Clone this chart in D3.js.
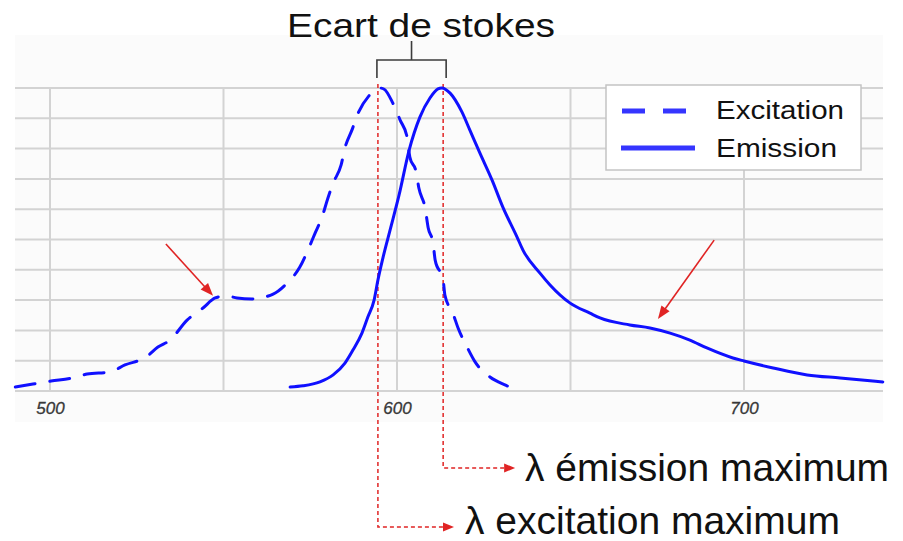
<!DOCTYPE html>
<html>
<head>
<meta charset="utf-8">
<script src="https://cdn.jsdelivr.net/npm/d3@7/dist/d3.min.js"></script>
<style>
  html, body { margin: 0; padding: 0; background: #ffffff; }
  svg { display: block; font-family: "Liberation Sans", Arial, sans-serif; }
</style>
</head>
<body>
<svg id="chart" width="903" height="541"></svg>
<script>
// ---------- data ----------
const title = "Ecart de stokes";
const seriesNames = ["Excitation", "Emission"];
const xTickLabels = [500, 600, 700];
const xGridValues = [500, 550, 600, 650, 700];
const yGridValues = [0, 10, 20, 30, 40, 50, 60, 70, 80, 90, 100];

const excitationNm  = [490, 495.1, 500.3, 506.3, 510.7, 517.3, 521.6, 527.7, 531.1, 534.6, 539.5, 544.1, 547.6, 550.7, 553.9, 558.2, 564.3, 568.3, 572.0, 574.1, 576.4, 578.4, 580.1, 581.6, 583.9, 585.0, 587.0, 588.8, 591.9, 595.0, 596.3, 598.8, 600.9, 602.9, 603.7, 605.5, 606.3, 608.1, 609.0, 610.4, 611.0, 613.3, 613.8, 616.1, 617.6, 620.2, 622.5, 626.8, 631.1, 634.9];
const excitationVal = [1.3, 2.3, 3.3, 4.3, 5.6, 6.3, 8.6, 11.2, 14.5, 16.8, 23.4, 27.4, 30.7, 31.4, 30.7, 30.4, 32.0, 35.6, 40.9, 45.9, 52.1, 57.4, 63.7, 68.6, 74.6, 80.2, 86.1, 91.7, 97.4, 100, 99.6, 95.0, 89.4, 83.8, 77.2, 72.3, 67.0, 60.4, 53.8, 48.8, 43.2, 36.6, 31.7, 25.7, 20.8, 14.5, 9.6, 4.6, 2.0, 0.3];

const emissionNm  = [569.2, 572.9, 577.8, 581.6, 585.0, 587.3, 589.9, 591.6, 593.4, 594.5, 596.0, 598.0, 600.6, 603.5, 606.6, 609.5, 611.8, 612.9, 615.3, 618.7, 621.0, 623.9, 627.4, 630.5, 634.6, 636.3, 641.2, 644.1, 649.9, 655.6, 658.5, 667.1, 672.9, 678.7, 684.4, 689.3, 696.8, 700.0, 708.4, 718.2, 727.7, 740.0];
const emissionVal = [1.3, 1.7, 3.0, 5.3, 9.2, 13.5, 19.1, 24.4, 30.0, 36.6, 44.2, 53.1, 64.7, 79.5, 90.4, 96.7, 99.7, 100, 98.3, 92.1, 86.1, 78.5, 69.6, 60.7, 50.8, 46.5, 38.9, 35.0, 29.0, 25.7, 24.1, 21.8, 20.8, 19.1, 16.8, 14.2, 10.9, 9.9, 7.6, 5.3, 4.3, 3.0];

const excitationMaxNm = 594.5;
const emissionMaxNm = 613.3;
const annotationLabels = ["λ émission maximum", "λ excitation maximum"];
// shoulder arrows: [fromNm, fromVal, toNm, toVal]
const shoulderArrows = [
  [533.4, 48.5, 547.0, 31.4],
  [691.4, 49.8, 675.2, 23.8]
];

// ---------- layout ----------
const svg = d3.select("#chart");
const x = d3.scaleLinear().domain([500, 700]).range([50, 744]);
const y = d3.scaleLinear().domain([0, 100]).range([391, 88]);
const plotLeft = 15, plotRight = 883, plotTop = 35, plotBottom = 422;
const blue = "#1010ff";
const red = "#e02424";

// plot background
svg.append("rect")
  .attr("x", plotLeft).attr("y", plotTop)
  .attr("width", plotRight - plotLeft).attr("height", plotBottom - plotTop)
  .attr("fill", "#fbfbfb");

// grid
const grid = svg.append("g");
grid.selectAll("line.h").data(yGridValues).enter().append("line")
  .attr("x1", plotLeft).attr("x2", plotRight)
  .attr("y1", d => y(d)).attr("y2", d => y(d))
  .attr("stroke", "#d3d3d3").attr("stroke-width", 2);
grid.selectAll("line.v").data(xGridValues).enter().append("line")
  .attr("x1", d => x(d)).attr("x2", d => x(d))
  .attr("y1", y(100)).attr("y2", y(0))
  .attr("stroke", "#d3d3d3").attr("stroke-width", 2);

// x axis labels via d3 axis
const axis = d3.axisBottom(x).tickValues(xTickLabels).tickSize(0).tickPadding(0).tickFormat(d3.format("d"));
const axG = svg.append("g").attr("transform", `translate(0, ${y(0)})`).call(axis);
axG.select(".domain").remove();
axG.attr("font-size", null).attr("font-family", null);
axG.selectAll("text")
  .attr("y", 23).attr("dy", 0)
  .style("font-family", "'Liberation Sans', Arial, sans-serif")
  .style("font-size", "17px").style("font-style", "italic")
  .attr("fill", "#383838")
  .attr("stroke", "#383838").attr("stroke-width", 0.3);

// curves
const line = d3.line().x(d => x(d[0])).y(d => y(d[1])).curve(d3.curveMonotoneX);
const exData = excitationNm.map((d, i) => [d, excitationVal[i]]);
const emData = emissionNm.map((d, i) => [d, emissionVal[i]]);

// red dashed guides (behind curves)
const guideG = svg.append("g");
const exX = x(excitationMaxNm), emX = x(emissionMaxNm);
const exRowY = 527, emRowY = 468;
guideG.append("path")
  .attr("d", `M${exX},84 L${exX},${exRowY} L${x(xTickLabels[1]) + 47},${exRowY}`)
  .attr("fill", "none").attr("stroke", red).attr("stroke-width", 1.5).attr("stroke-dasharray", "4,3");
guideG.append("path")
  .attr("d", `M${emX},84 L${emX},${emRowY} L${emX + 62},${emRowY}`)
  .attr("fill", "none").attr("stroke", red).attr("stroke-width", 1.5).attr("stroke-dasharray", "4,3");
function headAt(tx, ty, angle, len, wid) {
  const c = Math.cos(angle), s = Math.sin(angle);
  const bx = tx - c * len, by = ty - s * len;
  return `M${tx},${ty} L${bx - s * wid / 2},${by + c * wid / 2} L${bx + s * wid / 2},${by - c * wid / 2} Z`;
}
guideG.append("path").attr("d", headAt(x(xTickLabels[1]) + 57, exRowY, 0, 11, 9)).attr("fill", red);
guideG.append("path").attr("d", headAt(emX + 72, emRowY, 0, 11, 9)).attr("fill", red);

svg.append("path").datum(exData).attr("d", line)
  .attr("fill", "none").attr("stroke", blue).attr("stroke-width", 3)
  .attr("stroke-dasharray", "20,15").attr("stroke-linecap", "round");
svg.append("path").datum(emData).attr("d", line)
  .attr("fill", "none").attr("stroke", blue).attr("stroke-width", 3)
  .attr("stroke-linecap", "round");

// shoulder arrows
shoulderArrows.forEach(a => {
  const x1 = x(a[0]), y1 = y(a[1]), x2 = x(a[2]), y2 = y(a[3]);
  const ang = Math.atan2(y2 - y1, x2 - x1);
  const L = 13;
  svg.append("line")
    .attr("x1", x1).attr("y1", y1)
    .attr("x2", x2 - Math.cos(ang) * L * 0.8).attr("y2", y2 - Math.sin(ang) * L * 0.8)
    .attr("stroke", red).attr("stroke-width", 1.6);
  svg.append("path").attr("d", headAt(x2, y2, ang, L, 10)).attr("fill", red);
});

// bracket
const bracketY = 60, stemTop = 41, legBottom = 78;
svg.append("path")
  .attr("d", `M${exX - 1},${legBottom} L${exX - 1},${bracketY} L${emX + 3},${bracketY} L${emX + 3},${legBottom} M${(exX + emX) / 2 + 1},${bracketY} L${(exX + emX) / 2 + 1},${stemTop}`)
  .attr("fill", "none").attr("stroke", "#3c3c3c").attr("stroke-width", 1.6);

// title
svg.append("text")
  .attr("x", 287).attr("y", 37)
  .attr("font-size", 34).attr("fill", "#111")
  .attr("textLength", 268).attr("lengthAdjust", "spacingAndGlyphs")
  .text(title);

// legend
const lg = svg.append("g");
lg.append("rect").attr("x", 606).attr("y", 85).attr("width", 255).attr("height", 85)
  .attr("fill", "#ffffff").attr("stroke", "#c4c4c4").attr("stroke-width", 1.5);
lg.append("line").attr("x1", 622).attr("x2", 686).attr("y1", 111).attr("y2", 111)
  .attr("stroke", "#3535ff").attr("stroke-width", 5).attr("stroke-dasharray", "23,18");
lg.append("line").attr("x1", 621).attr("x2", 695).attr("y1", 148).attr("y2", 148)
  .attr("stroke", "#3535ff").attr("stroke-width", 5);
lg.append("text").attr("x", 716).attr("y", 119).attr("font-size", 26).attr("fill", "#111")
  .attr("textLength", 128).attr("lengthAdjust", "spacingAndGlyphs").text(seriesNames[0]);
lg.append("text").attr("x", 716).attr("y", 157).attr("font-size", 26).attr("fill", "#111")
  .attr("textLength", 121).attr("lengthAdjust", "spacingAndGlyphs").text(seriesNames[1]);

// annotation labels
svg.append("text").attr("x", 525).attr("y", 481).attr("font-size", 39).attr("fill", "#111")
  .text(annotationLabels[0]);
svg.append("text").attr("x", 465).attr("y", 534).attr("font-size", 39).attr("fill", "#111")
  .text(annotationLabels[1]);
</script>
</body>
</html>
